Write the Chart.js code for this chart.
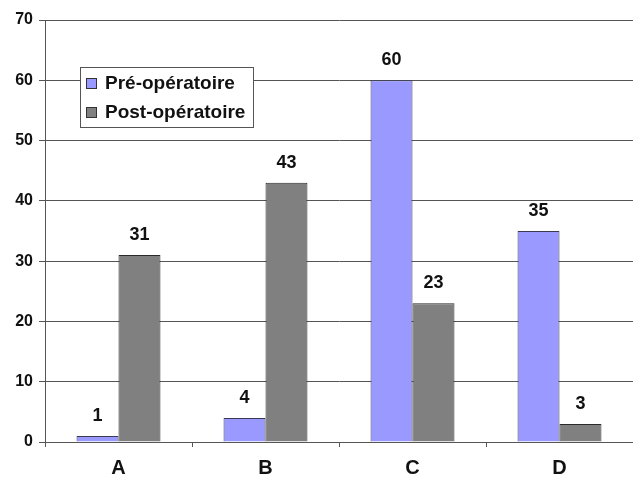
<!DOCTYPE html>
<html>
<head>
<meta charset="utf-8">
<script src="https://cdn.jsdelivr.net/npm/chart.js@4/dist/chart.umd.min.js"></script>
<style>
  html, body { margin: 0; padding: 0; background: #fff; }
  #wrap { width: 633px; height: 484px; position: relative; }
</style>
</head>
<body>
<div id="wrap"><canvas id="c"></canvas></div>
<script>
const categories = ['A', 'B', 'C', 'D'];
const preOp = [1, 4, 60, 35];
const postOp = [31, 43, 23, 3];
const seriesNames = ['Pré-opératoire', 'Post-opératoire'];
const yTicks = [0, 10, 20, 30, 40, 50, 60, 70];

const FONT = 'Arial, "Liberation Sans", sans-serif';

// Value labels above each bar
const valueLabels = {
  id: 'valueLabels',
  afterDatasetsDraw(chart) {
    const ctx = chart.ctx;
    ctx.save();
    ctx.font = 'bold 18px ' + FONT;
    ctx.fillStyle = '#111';
    ctx.textAlign = 'center';
    ctx.textBaseline = 'alphabetic';
    chart.data.datasets.forEach((ds, i) => {
      chart.getDatasetMeta(i).data.forEach((bar, j) => {
        ctx.fillText(String(ds.data[j]), bar.x, bar.y - 15);
      });
    });
    ctx.restore();
  }
};

// Boxed legend inside the plot area
const boxLegend = {
  id: 'boxLegend',
  afterDraw(chart) {
    const ctx = chart.ctx;
    const x = 80, y = 67, w = 173, h = 60;
    ctx.save();
    ctx.fillStyle = '#fff';
    ctx.fillRect(x, y, w, h);
    ctx.strokeStyle = '#555';
    ctx.lineWidth = 1;
    ctx.strokeRect(x + 0.5, y + 0.5, w, h);
    ctx.font = 'bold 19px ' + FONT;
    ctx.textBaseline = 'middle';
    chart.data.datasets.forEach((ds, i) => {
      const cy = y + 16 + i * 29;
      ctx.fillStyle = ds.backgroundColor;
      ctx.fillRect(86, cy - 5, 11, 11);
      ctx.strokeStyle = '#333';
      ctx.strokeRect(86.5, cy - 4.5, 10, 10);
      ctx.fillStyle = '#111';
      ctx.fillText(ds.label, 105, cy + 1);
    });
    ctx.restore();
  }
};

new Chart(document.getElementById('c'), {
  type: 'bar',
  data: {
    labels: categories,
    datasets: [
      { label: seriesNames[0], data: preOp, backgroundColor: '#9999FF', borderColor: '#3a3a55', borderWidth: 1, borderSkipped: 'bottom' },
      { label: seriesNames[1], data: postOp, backgroundColor: '#808080', borderColor: '#2a2a2a', borderWidth: 1, borderSkipped: 'bottom' }
    ]
  },
  options: {
    responsive: true,
    maintainAspectRatio: false,
    animation: false,
    layout: { padding: { top: 20, right: 0, left: 0, bottom: 0 } },
    plugins: { legend: { display: false }, tooltip: { enabled: false } },
    datasets: { bar: { categoryPercentage: 0.571, barPercentage: 1.0 } },
    scales: {
      x: {
        afterFit(scale) { scale.height = 42; },
        grid: { offset: true, drawOnChartArea: false, color: '#555', tickLength: 5 },
        border: { color: '#555', width: 1 },
        ticks: { color: '#111', font: { family: FONT, size: 20, weight: 'bold' }, padding: 9 }
      },
      y: {
        min: 0, max: 70,
        afterFit(scale) { scale.width = 45; },
        afterBuildTicks(scale) { scale.ticks = yTicks.map(v => ({ value: v })); },
        grid: { color: '#555', tickLength: 6 },
        border: { color: '#555', width: 1 },
        ticks: { color: '#111', font: { family: FONT, size: 16, weight: 'bold' }, padding: 6 }
      }
    }
  },
  plugins: [valueLabels, boxLegend]
});
</script>
</body>
</html>
